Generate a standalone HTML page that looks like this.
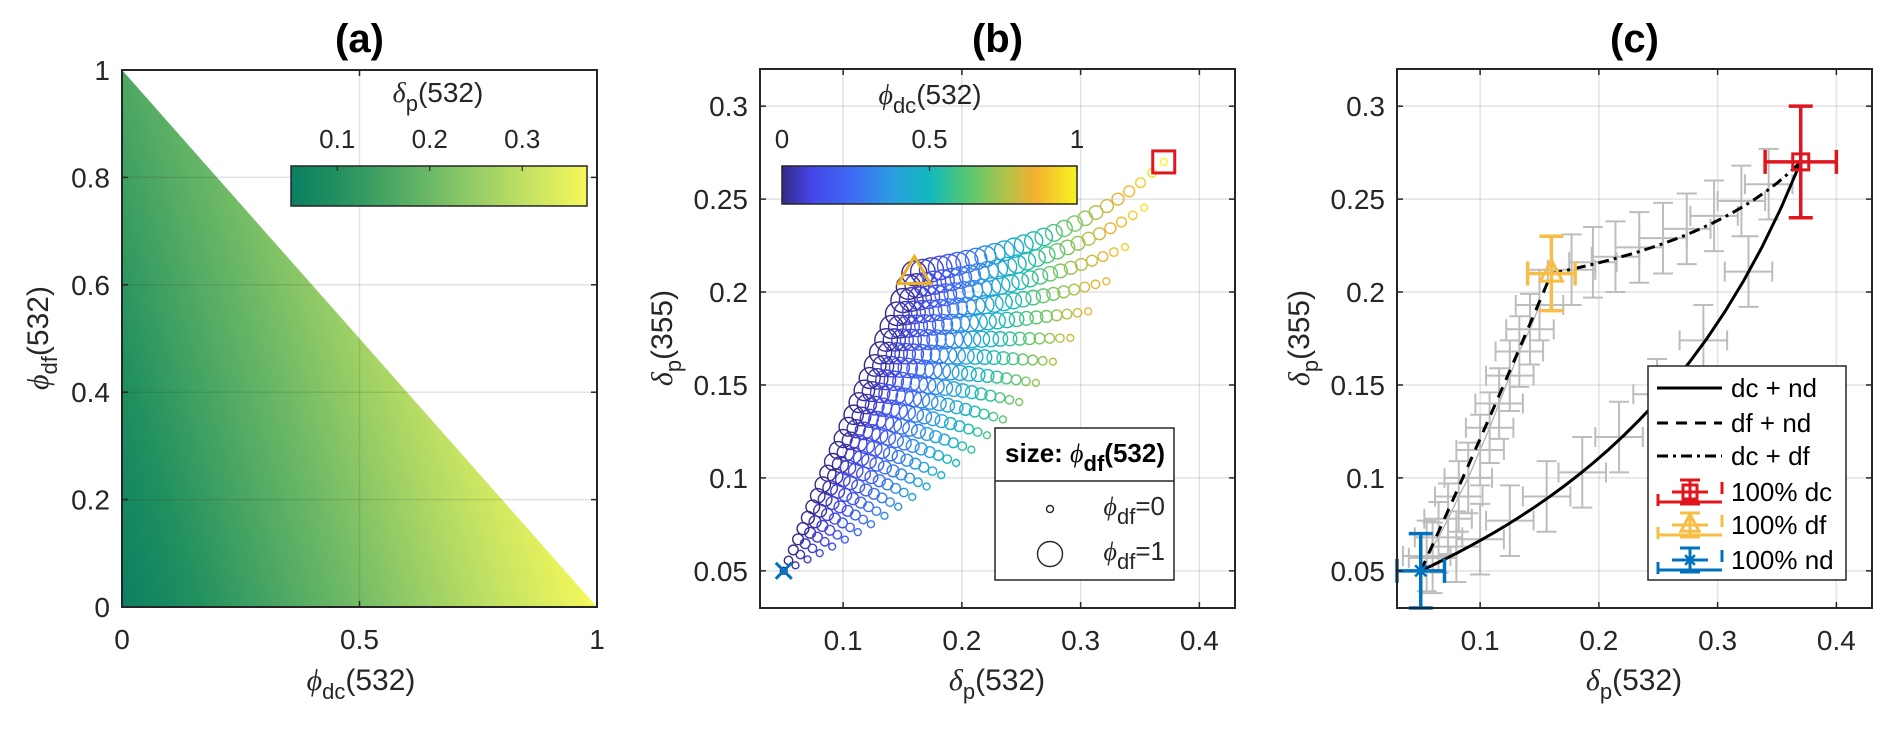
<!DOCTYPE html>
<html><head><meta charset="utf-8"><style>
html,body{margin:0;padding:0;background:#fff;}
svg{display:block;font-family:"Liberation Sans",Arial,sans-serif;}
</style></head><body>
<svg id="fig" width="1892" height="729" viewBox="0 0 1892 729" xmlns="http://www.w3.org/2000/svg">
<defs>
<linearGradient id="gA" gradientUnits="userSpaceOnUse" x1="122" y1="607" x2="557" y2="475">
<stop offset="0" stop-color="#0b7f63"/><stop offset="0.16" stop-color="#21905f"/><stop offset="0.47" stop-color="#6cb866"/><stop offset="0.78" stop-color="#bfe064"/><stop offset="1" stop-color="#f5f85a"/>
</linearGradient>
<linearGradient id="gAbar" x1="0" y1="0" x2="1" y2="0">
<stop offset="0" stop-color="#0b7f63"/><stop offset="0.16" stop-color="#21905f"/><stop offset="0.47" stop-color="#6cb866"/><stop offset="0.78" stop-color="#bfe064"/><stop offset="1" stop-color="#f5f85a"/>
</linearGradient>
<linearGradient id="gB" x1="0" y1="0" x2="1" y2="0">
<stop offset="0" stop-color="#352a87"/><stop offset="0.1" stop-color="#4545e8"/><stop offset="0.25" stop-color="#3d6ff5"/><stop offset="0.38" stop-color="#2aa0e0"/><stop offset="0.5" stop-color="#12b8be"/><stop offset="0.62" stop-color="#50c877"/><stop offset="0.75" stop-color="#a8c44a"/><stop offset="0.86" stop-color="#f5b030"/><stop offset="1" stop-color="#f5f520"/>
</linearGradient>
</defs>
<g id="root"></g>
</svg>
<script>
// ---- data ----
const endNames = ['dc','df','nd'];
const endDelta532 = [0.37, 0.16, 0.05];
const endDelta355 = [0.27, 0.21, 0.05];
const endErr532 = [0.03, 0.02, 0.02];
const endErr355 = [0.03, 0.02, 0.02];
const colorRatio = [1, 2.5, 2.5];
const phiSteps = [0,0.04,0.08,0.12,0.16,0.2,0.24,0.28,0.32,0.36,0.4,0.44,0.48,0.52,0.56,0.6,0.64,0.68,0.72,0.76,0.8,0.84,0.88,0.92,0.96,1];
const xTicksA = [0, 0.5, 1];
const yTicksA = [0, 0.2, 0.4, 0.6, 0.8, 1];
const cbTicksA = [0.1, 0.2, 0.3];
const cbRangeA = [0.05, 0.37];
const xTicksBC = [0.1, 0.2, 0.3, 0.4];
const yTicksBC = [0.05, 0.1, 0.15, 0.2, 0.25, 0.3];
const cbTicksB = [0, 0.5, 1];
// gray observation series in (c)
const obsDfNdX = [0.055,0.065,0.073,0.082,0.09,0.1,0.108,0.116,0.125,0.133,0.142,0.15];
const obsDfNdY = [0.058,0.068,0.078,0.09,0.1,0.115,0.127,0.14,0.155,0.168,0.18,0.193];
const obsDcNdX = [0.06,0.08,0.1,0.125,0.156,0.186,0.217,0.249,0.288,0.326];
const obsDcNdY = [0.057,0.063,0.067,0.077,0.09,0.103,0.122,0.145,0.174,0.211];
const obsDcDfX = [0.177,0.195,0.214,0.234,0.254,0.274,0.297,0.32,0.343];
const obsDcDfY = [0.212,0.216,0.219,0.224,0.229,0.234,0.241,0.249,0.258];
const obsXErr = 0.02;
const obsYErr = 0.019;

// ---- helpers ----
const NS='http://www.w3.org/2000/svg';
const root=document.getElementById('root');
function el(tag,attrs,parent){const e=document.createElementNS(NS,tag);for(const k in attrs)e.setAttribute(k,attrs[k]);(parent||root).appendChild(e);return e;}
function txt(x,y,s,size,anchor,extra){const t=el('text',Object.assign({x:x,y:y,'font-size':size,'text-anchor':anchor||'middle',fill:'#262626'},extra||{}));t.innerHTML=s;return t;}
const fdep=d=>d/(1+d), inv=f=>f/(1-f);
function mix(phi){let f5=0,w=0,f3=0;for(let i=0;i<3;i++){f5+=phi[i]*fdep(endDelta532[i]);w+=phi[i]*colorRatio[i];}
 for(let i=0;i<3;i++){f3+=phi[i]*colorRatio[i]/w*fdep(endDelta355[i]);}return [inv(f5),inv(f3)];}
function hex(c){return [parseInt(c.substr(1,2),16),parseInt(c.substr(3,2),16),parseInt(c.substr(5,2),16)];}
const parula=[[0,'#352a87'],[0.1,'#4545e8'],[0.25,'#3d6ff5'],[0.38,'#2aa0e0'],[0.5,'#12b8be'],[0.62,'#50c877'],[0.75,'#a8c44a'],[0.86,'#f5b030'],[1,'#f5f520']];
function cmap(v){for(let i=1;i<parula.length;i++){if(v<=parula[i][0]+1e-9){const a=parula[i-1],b=parula[i];const t=(v-a[0])/(b[0]-a[0]);const A=hex(a[1]),B=hex(b[1]);return 'rgb('+A.map((x,k)=>Math.round(x+(B[k]-x)*t)).join(',')+')';}}return parula[parula.length-1][1];}

const boxes=[{x:122,y:70,w:475,h:537},{x:760,y:69,w:475,h:539},{x:1397,y:69,w:475,h:539}];
function axes(b,xr,yr){return {X:v=>b.x+(v-xr[0])/(xr[1]-xr[0])*b.w, Y:v=>b.y+b.h-(v-yr[0])/(yr[1]-yr[0])*b.h};}
function grid(b,ax,xt,yt,g){
 xt.forEach(v=>{const l=el('line',{x1:ax.X(v),x2:ax.X(v),y1:b.y,y2:b.y+b.h,stroke:'#262626','stroke-opacity':0.13,'stroke-width':1.5},g);});
 yt.forEach(v=>{const l=el('line',{x1:b.x,x2:b.x+b.w,y1:ax.Y(v),y2:ax.Y(v),stroke:'#262626','stroke-opacity':0.13,'stroke-width':1.5},g);});
}
function frame(b,ax,xt,yt,xl,yl,g){
 const r=el('rect',{x:b.x,y:b.y,width:b.w,height:b.h,fill:'none',stroke:'#262626','stroke-width':2},g);
 
 xt.forEach(v=>{const x=ax.X(v);el('line',{x1:x,x2:x,y1:b.y+b.h,y2:b.y+b.h-6,stroke:'#262626','stroke-width':1.5},g);el('line',{x1:x,x2:x,y1:b.y,y2:b.y+6,stroke:'#262626','stroke-width':1.5},g);
  const t=txt(x,b.y+b.h+42,xl(v),28,'middle',{});g.appendChild(t);});
 yt.forEach(v=>{const y=ax.Y(v);el('line',{x1:b.x,x2:b.x+6,y1:y,y2:y,stroke:'#262626','stroke-width':1.5},g);el('line',{x1:b.x+b.w,x2:b.x+b.w-6,y1:y,y2:y,stroke:'#262626','stroke-width':1.5},g);
  const t=txt(b.x-12,y+10,yl(v),28,'end',{});g.appendChild(t);});
}
const fmt=v=>String(v);
function title(b,s){const t=txt(b.x+b.w/2,52,s,40,'middle',{'font-weight':'bold',fill:'#000'});}
const PHI='<tspan font-family="Liberation Serif, serif" font-style="italic">ϕ</tspan>';
const DEL='<tspan font-family="Liberation Serif, serif" font-style="italic">δ</tspan>';
function sub(s){return '<tspan font-size="22" dy="9">'+s+'</tspan><tspan dy="-9">';}
function lab(sym,s,rest){return sym+sub(s)+rest+'</tspan>';}

// ================= Panel (a) =================
(function(){
 const b=boxes[0];const ax=axes(b,[0,1],[0,1]);
 const g=el('g',{});
 const tri=el('polygon',{points:[ax.X(0)+','+ax.Y(0),ax.X(1)+','+ax.Y(0),ax.X(0)+','+ax.Y(1)].join(' '),fill:'url(#gA)'},g);
 
 grid(b,ax,[0.5],[0.2,0.4,0.6,0.8],g);
 const cb={x:291,y:166,w:296,h:40};
 const cr=el('rect',{x:cb.x,y:cb.y,width:cb.w,height:cb.h,fill:'url(#gAbar)',stroke:'#262626','stroke-width':1.5},g);
 
 const cX=v=>cb.x+(v-cbRangeA[0])/(cbRangeA[1]-cbRangeA[0])*cb.w;
 cbTicksA.forEach(v=>{el('line',{x1:cX(v),x2:cX(v),y1:cb.y,y2:cb.y+5,stroke:'#262626','stroke-width':1.2},g);const t=txt(cX(v),148,fmt(v),26);});
 const ct=txt(438,102,lab(DEL,'p','(532)'),28);
 frame(b,ax,xTicksA,yTicksA,fmt,fmt,g);
 title(b,'(a)');
 const xl=txt(361,690,lab(PHI,'dc','(532)'),30);
 const yl=txt(0,0,lab(PHI,'df','(532)'),30,'middle',{transform:'translate(48,338) rotate(-90)'});
})();

// ================= Panel (b) =================
(function(){
 const b=boxes[1];const ax=axes(b,[0.03,0.43],[0.03,0.32]);
 const g=el('g',{});
 grid(b,ax,xTicksBC,yTicksBC,g);
 const sc=el('g',{},g);
 phiSteps.forEach(nd=>{phiSteps.forEach(dc=>{const df=+(1-nd-dc).toFixed(6);if(df<-1e-9)return;
  const p=mix([dc,Math.max(df,0),nd]);const r=Math.sqrt(12+144*Math.max(df,0));
  const c=el('circle',{cx:ax.X(p[0]),cy:ax.Y(p[1]),r:r,fill:'none',stroke:cmap(dc),'stroke-width':1.4},sc);
  });});
 let X=ax.X(endDelta532[2]),Y=ax.Y(endDelta355[2]);
 const xm=el('path',{d:`M${X-8} ${Y-8}L${X+8} ${Y+8}M${X-8} ${Y+8}L${X+8} ${Y-8}`,stroke:'#0072bd','stroke-width':3,fill:'none'},g);
 
 X=ax.X(endDelta532[1]);Y=ax.Y(endDelta355[1]);
 const tm=el('polygon',{points:`${X},${Y-17} ${X+16},${Y+10} ${X-16},${Y+10}`,stroke:'#edb120','stroke-width':3,fill:'none'},g);
 
 X=ax.X(endDelta532[0]);Y=ax.Y(endDelta355[0]);
 const sm=el('rect',{x:X-11,y:Y-11,width:22,height:22,stroke:'#e0161f','stroke-width':3,fill:'none'},g);
 
 const cb={x:782,y:166,w:295,h:38};
 const cr=el('rect',{x:cb.x,y:cb.y,width:cb.w,height:cb.h,fill:'url(#gB)',stroke:'#262626','stroke-width':1.5},g);
 
 cbTicksB.forEach(v=>{const x=cb.x+v*cb.w;el('line',{x1:x,x2:x,y1:cb.y,y2:cb.y+5,stroke:'#262626','stroke-width':1.2},g);const t=txt(x,148,fmt(v),26);});
 const ct=txt(930,104,lab(PHI,'dc','(532)'),28);
 const lg=el('g',{},g);
 el('rect',{x:995,y:428,width:179,height:152,fill:'#fff',stroke:'#262626','stroke-width':1.5},lg);
 el('line',{x1:995,x2:1174,y1:481,y2:481,stroke:'#262626','stroke-width':1.5},lg);
 const lt=txt(1085,462,'size: '+PHI.replace('italic"','italic" font-weight="normal"')+'<tspan font-size="22" dy="9">df</tspan><tspan dy="-9">(532)</tspan>',26,'middle',{'font-weight':'bold',fill:'#000'});
 lg.appendChild(lt);
 el('circle',{cx:1050,cy:509,r:3.5,fill:'none',stroke:'#262626','stroke-width':1.4},lg);
 el('circle',{cx:1050,cy:554,r:12.5,fill:'none',stroke:'#262626','stroke-width':1.4},lg);
 const l1=txt(1165,515,lab(PHI,'df','=0'),26,'end');lg.appendChild(l1);
 const l2=txt(1165,560,lab(PHI,'df','=1'),26,'end');lg.appendChild(l2);
 frame(b,ax,xTicksBC,yTicksBC,fmt,fmt,g);
 title(b,'(b)');
 const xl=txt(997,690,lab(DEL,'p','(532)'),30);
 const yl=txt(0,0,lab(DEL,'p','(355)'),30,'middle',{transform:'translate(672,338) rotate(-90)'});
})();

// ================= Panel (c) =================
(function(){
 const b=boxes[2];const ax=axes(b,[0.03,0.43],[0.03,0.32]);
 const g=el('g',{});
 grid(b,ax,xTicksBC,yTicksBC,g);
 function errbar(x,y,xe,ye,col,w,cap,parent){const X=ax.X(x),Y=ax.Y(y),x0=ax.X(x-xe),x1=ax.X(x+xe),y0=ax.Y(y-ye),y1=ax.Y(y+ye);
  return el('path',{d:`M${x0} ${Y}H${x1}M${x0} ${Y-cap}V${Y+cap}M${x1} ${Y-cap}V${Y+cap}M${X} ${y0}V${y1}M${X-cap} ${y0}H${X+cap}M${X-cap} ${y1}H${X+cap}`,stroke:col,'stroke-width':w,fill:'none'},parent);}
 [[obsDfNdX,obsDfNdY,'obs-df-nd',true],[obsDcNdX,obsDcNdY,'obs-dc-nd',false],[obsDcDfX,obsDcDfY,'obs-dc-df',false]].forEach(s=>{
  const sg=el('g',{},g);
  if(s[3]) el('polyline',{points:s[0].map((x,i)=>ax.X(x)+','+ax.Y(s[1][i])).join(' '),fill:'none',stroke:'#b0b0b0','stroke-width':1.3},sg);
  s[0].forEach((x,i)=>{const e=errbar(x,s[1][i],obsXErr,obsYErr,'#bdbdbd',2,10,sg);});
 });
 const pairs=[[0,2,'none','dc-nd-curve'],[1,2,'11,8','df-nd-curve'],[0,1,'11,5,3,5','dc-df-curve']];
 pairs.forEach(p=>{const pts=phiSteps.map(t=>{const phi=[0,0,0];phi[p[0]]=t;phi[p[1]]=1-t;const m=mix(phi);return ax.X(m[0])+','+ax.Y(m[1]);});
  const pl=el('polyline',{points:pts.join(' '),fill:'none',stroke:'#000','stroke-width':3,'stroke-dasharray':p[2]},g);
  });
 const cols=['#e0161f','#f7bd45','#0072bd'];
 function marker(i,X,Y,s,parent){if(i===0)return el('path',{d:`M${X-s} ${Y-s}h${2*s}v${2*s}h${-2*s}z M${X-2} ${Y}h4`,stroke:cols[0],'stroke-width':3,fill:'none'},parent);
  if(i===1)return el('polygon',{points:`${X},${Y-s*1.2} ${X+s},${Y+s*0.7} ${X-s},${Y+s*0.7}`,stroke:cols[1],'stroke-width':3,fill:'none'},parent);
  return el('path',{d:`M${X-s} ${Y}H${X+s}M${X} ${Y-s}V${Y+s}M${X-s*0.7} ${Y-s*0.7}L${X+s*0.7} ${Y+s*0.7}M${X-s*0.7} ${Y+s*0.7}L${X+s*0.7} ${Y-s*0.7}`,stroke:cols[2],'stroke-width':2.5,fill:'none'},parent);}
 [0,1,2].forEach(i=>{const eg=el('g',{},g);
  errbar(endDelta532[i],endDelta355[i],endErr532[i],endErr355[i],cols[i],3.5,12,eg);marker(i,ax.X(endDelta532[i]),ax.Y(endDelta355[i]),i===1?11:8,eg);});
 const lg=el('g',{},g);
 el('rect',{x:1648,y:366,width:198,height:214,fill:'#fff',stroke:'#262626','stroke-width':1.5},lg);
 const ys=[388,423,456,492,525,560];
 const labels=['dc + nd','df + nd','dc + df','100% dc','100% df','100% nd'];
 const dashes=['none','11,8','11,5,3,5'];
 ys.forEach((y,k)=>{
  if(k<3){const l=el('line',{x1:1657,x2:1722,y1:y,y2:y,stroke:'#000','stroke-width':3,'stroke-dasharray':dashes[k]},lg);}
  else{const i=k-3;const X=1690;
   el('path',{d:`M1658 ${y+10}H1722M1722 ${y-10}V${y+2}M1658 ${y+2}V${y+14}M${X} ${y-12}V${y+12}M${X-10} ${y-12}H${X+10}M${X-10} ${y+12}H${X+10}M1672 ${y}H1708`,stroke:cols[i],'stroke-width':3,fill:'none'},lg);
   marker(i,X,y,i===1?9:7,lg);}
  const t=txt(1731,y+9,labels[k],26,'start',{fill:'#000'});lg.appendChild(t);
 });
 frame(b,ax,xTicksBC,yTicksBC,fmt,fmt,g);
 title(b,'(c)');
 const xl=txt(1634,690,lab(DEL,'p','(532)'),30);
 const yl=txt(0,0,lab(DEL,'p','(355)'),30,'middle',{transform:'translate(1309,338) rotate(-90)'});
})();
</script>
</body></html>
